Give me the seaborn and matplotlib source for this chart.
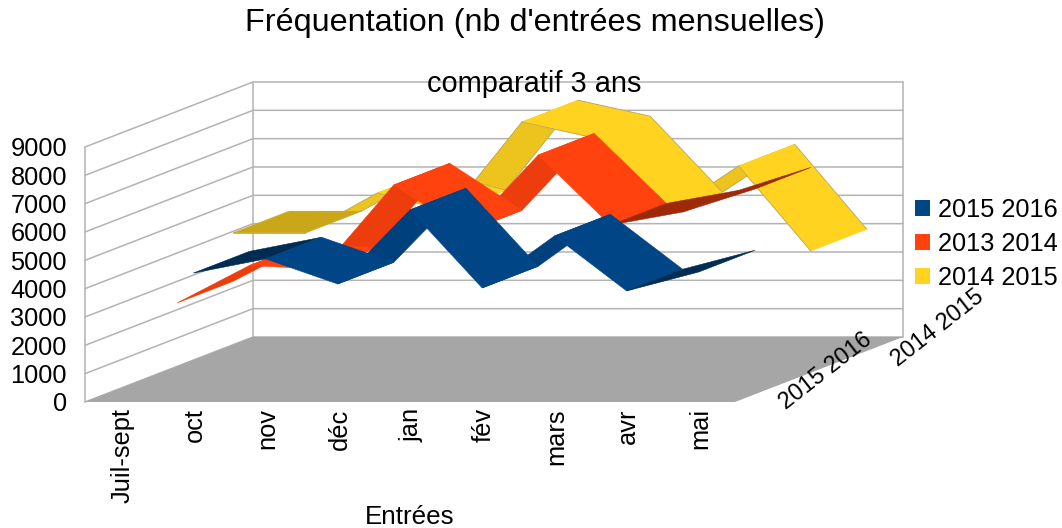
import numpy as np
import seaborn as sns
import matplotlib
matplotlib.use("Agg")
import matplotlib.pyplot as plt
from matplotlib.patches import Patch, Polygon

categories = ["Juil-sept", "oct", "nov", "déc", "jan", "fév", "mars", "avr", "mai"]
series_names = ["2015 2016", "2013 2014", "2014 2015"]
values_2015_2016 = [np.nan, 4550, 5050, 4165, 6780, 4025, 5860, 3920, 4590]
values_2013_2014 = [2730, 4050, 3930, 6895, 5235, 7950, 5480, 5940, 6750]
values_2014_2015 = [4440, 4440, 5850, 5180, 8355, 7790, 5110, 6800, 3800]
value_ticks = [0, 1000, 2000, 3000, 4000, 5000, 6000, 7000, 8000, 9000]
depth_labels = {0: "2015 2016", 2: "2014 2015"}

sns.set_theme(style="white", font="Liberation Sans")
palette = sns.color_palette(["#004586", "#ff420e", "#ffd320"])
grid_color = "#b3b3b3"

# px per category / per unit, one depth slot in chart units
X_STEP = 72.22
Y_STEP = 255 / 9000
DEPTH_X = 56 / X_STEP
DEPTH_Y = 21.67 / Y_STEP


def project(cat, depth, value):
    return cat + depth * DEPTH_X, value + depth * DEPTH_Y


def shade(color, dv):
    r = dv / (DEPTH_Y / DEPTH_X)
    if r < -0.1:
        f = 1.0
    elif r < 0.1:
        f = 0.79
    elif r < 1:
        f = 0.62
    else:
        f = 0.93
    return tuple(np.array(color) * f)


fig = plt.figure(figsize=(10.62, 5.28), dpi=100)
ax = fig.add_axes([0, 0, 1, 1])
ax.set_xlim(-0.5 - 85 / X_STEP, -0.5 + (1062 - 85) / X_STEP)
ax.set_ylim((402 - 528) / Y_STEP, 402 / Y_STEP)
ax.axis("off")

left, right = -0.5, len(categories) - 0.5

# floor
ax.add_patch(Polygon([project(left, 0, 0), project(right, 0, 0), project(right, 3, 0), project(left, 3, 0)],
                     closed=True, fc="#a6a6a6", ec="none", zorder=1))

# walls and grid
for v in value_ticks:
    a, b, c = project(left, 0, v), project(left, 3, v), project(right, 3, v)
    ax.plot([a[0], b[0], c[0]], [a[1], b[1], c[1]], color=grid_color, lw=1.1, zorder=0)
for cat, depth in [(left, 0), (left, 3), (right, 3)]:
    a, b = project(cat, depth, 0), project(cat, depth, 9000)
    ax.plot([a[0], b[0]], [a[1], b[1]], color=grid_color, lw=1.1, zorder=0)

# ribbons, back series first
all_values = [values_2015_2016, values_2013_2014, values_2014_2015]
for slot in [2, 1, 0]:
    vals = all_values[slot]
    color = palette[slot]
    segs = []
    for i in range(len(vals) - 1):
        if np.isnan(vals[i]) or np.isnan(vals[i + 1]):
            continue
        segs.append((i, vals[i + 1] - vals[i]))
    # faces seen from below go behind the top faces
    limit = DEPTH_Y / DEPTH_X
    segs.sort(key=lambda s: 0 if s[1] >= limit else 1)
    for n, (i, dv) in enumerate(segs):
        p0, p1 = project(i, slot, vals[i]), project(i + 1, slot, vals[i + 1])
        p2, p3 = project(i + 1, slot + 1, vals[i + 1]), project(i, slot + 1, vals[i])
        fc = shade(color, dv)
        z = 3 + (2 - slot) + n * 0.01
        ax.add_patch(Polygon([p0, p1, p2, p3], closed=True, fc=fc, ec=fc, lw=0.4, zorder=z))
        if slot == 2:
            # thin outline along the ribbon edges only
            for a, b in [(p0, p1), (p3, p2)]:
                ax.plot([a[0], b[0]], [a[1], b[1]], color="#b8a860", lw=0.6, zorder=z)

# axis labels
tick_size = 18.3
for v in value_ticks:
    ax.annotate(str(v), xy=project(left, 0, v), xytext=(-13, -1.6), textcoords="offset points",
                ha="right", va="center", fontsize=tick_size, color="black")
for i, name in enumerate(categories):
    ax.annotate(name, xy=project(i, 0, 0), xytext=(1.2, -4.5), textcoords="offset points",
                ha="center", va="top", rotation=90, fontsize=tick_size, color="black")
for slot, name in depth_labels.items():
    ax.annotate(name, xy=project(right, slot + 0.5, 0), xytext=(45, 14.5), textcoords="offset points",
                ha="center", va="center", rotation=38, rotation_mode="anchor",
                fontsize=16.8, color="black")

fig.text(535 / 1062, 1 - 23.5 / 528, "Fréquentation (nb d'entrées mensuelles)", ha="center", va="center",
         fontsize=23.3, color="black")
fig.text(534.5 / 1062, 1 - 84 / 528, "comparatif 3 ans", ha="center", va="center", fontsize=20.9, color="black")
fig.text(410 / 1062, 1 - 517 / 528, "Entrées", ha="center", va="center", fontsize=18.7, color="black")

handles = [Patch(fc=c, ec="none", label=n) for c, n in zip(palette, series_names)]
leg = ax.legend(handles=handles, loc="center left", bbox_to_anchor=(907 / 1062, 1 - 244 / 528), frameon=False,
                fontsize=tick_size, handlelength=0.6, handleheight=0.6, handletextpad=0.3, labelspacing=0.4,
                borderpad=0, borderaxespad=0.3)
for t in leg.get_texts():
    t.set_color("black")

fig.savefig("out.png", dpi=100)
